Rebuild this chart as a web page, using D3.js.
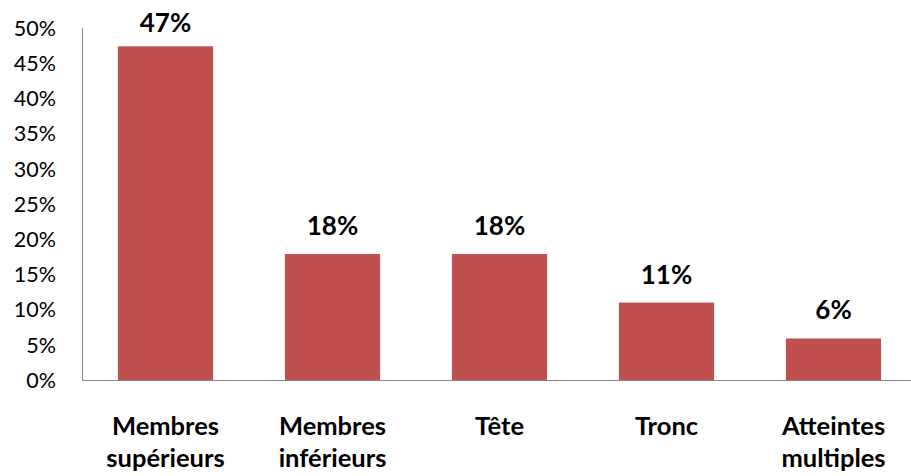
<!DOCTYPE html>
<html>
<head>
<meta charset="utf-8">
<script src="https://cdn.jsdelivr.net/npm/d3@7"></script>
<style>
  body { margin: 0; background: #fff; }
  svg { display: block; font-family: Lato, "Open Sans", sans-serif; }
</style>
</head>
<body>
<svg width="911" height="476"></svg>
<script>
// data
var categories = [["Membres", "supérieurs"], ["Membres", "inférieurs"], ["Tête"], ["Tronc"], ["Atteintes", "multiples"]];
var values = [47.4, 17.9, 17.9, 11.0, 5.9];
var labels = ["47%", "18%", "18%", "11%", "6%"];
var yTicks = [0, 5, 10, 15, 20, 25, 30, 35, 40, 45, 50];

var svg = d3.select("svg");

var x = d3.scaleBand()
  .domain(d3.range(values.length))
  .range([82, 917])
  .paddingInner(0.43)
  .paddingOuter(0.215);

var y = d3.scaleLinear()
  .domain([0, 50])
  .range([380, 28]);

// y axis labels
svg.append("g")
  .selectAll("text")
  .data(yTicks)
  .enter().append("text")
  .attr("x", 56)
  .attr("y", function(d) { return y(d); })
  .attr("dy", "0.36em")
  .attr("text-anchor", "end")
  .attr("font-size", 21.5)
  .attr("fill", "#000")
  .text(function(d) { return d + "%"; });

// bars
svg.append("g")
  .selectAll("rect")
  .data(values)
  .enter().append("rect")
  .attr("x", function(d, i) { return x(i); })
  .attr("y", function(d) { return y(d); })
  .attr("width", x.bandwidth())
  .attr("height", function(d) { return y(0) - y(d); })
  .attr("fill", "#C0504D");

// axis lines
svg.append("line")
  .attr("x1", 82.5).attr("x2", 82.5)
  .attr("y1", y(50)).attr("y2", y(0))
  .attr("stroke", "#868686");
svg.append("line")
  .attr("x1", 82).attr("x2", 911)
  .attr("y1", y(0) + 0.5).attr("y2", y(0) + 0.5)
  .attr("stroke", "#868686");

// value labels
svg.append("g")
  .selectAll("text")
  .data(values)
  .enter().append("text")
  .attr("x", function(d, i) { return x(i) + x.bandwidth() / 2; })
  .attr("y", function(d) { return Math.max(y(d) - 19, 32); })
  .attr("text-anchor", "middle")
  .attr("font-size", 26)
  .attr("font-weight", "bold")
  .text(function(d, i) { return labels[i]; });

// category labels
var cat = svg.append("g")
  .selectAll("text")
  .data(categories)
  .enter().append("text")
  .attr("x", function(d, i) { return x(i) + x.bandwidth() / 2; })
  .attr("y", 435)
  .attr("text-anchor", "middle")
  .attr("font-size", 25.5)
  .attr("font-weight", "bold");

cat.selectAll("tspan")
  .data(function(d) { return d; })
  .enter().append("tspan")
  .attr("x", function() { return d3.select(this.parentNode).attr("x"); })
  .attr("dy", function(d, i) { return i === 0 ? 0 : 32; })
  .text(function(d) { return d; });
</script>
</body>
</html>
